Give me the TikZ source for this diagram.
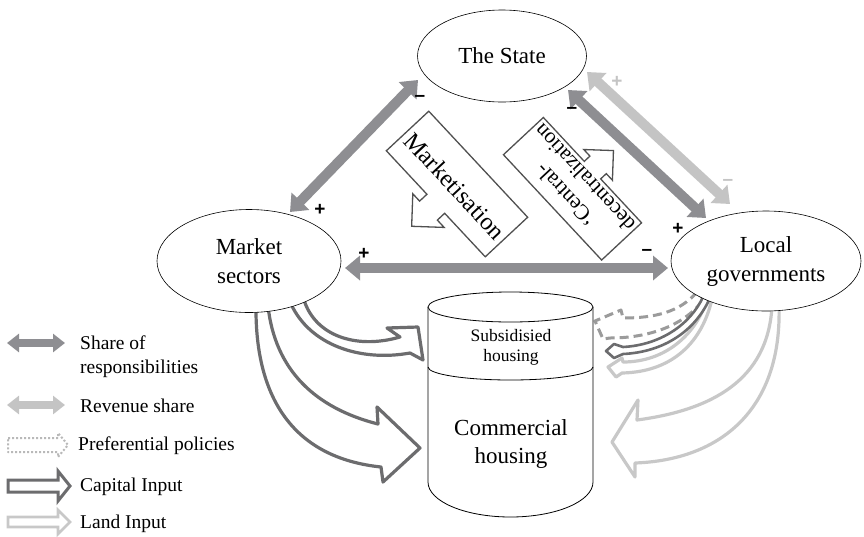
\documentclass[tikz,border=0pt]{standalone}
\usepackage{fontspec}
\setmainfont{Liberation Serif}
\newfontfamily\pmfont{Liberation Sans}
\usetikzlibrary{arrows.meta,backgrounds,shapes.geometric}
\definecolor{shareC}{RGB}{142,142,146}
\definecolor{revC}{RGB}{196,196,196}
\definecolor{capC}{RGB}{108,108,110}
\definecolor{landC}{RGB}{200,200,200}
\definecolor{prefC}{RGB}{155,155,155}
\definecolor{legprefC}{RGB}{185,185,185}
\definecolor{calloutC}{RGB}{80,80,80}
\begin{document}
\begin{tikzpicture}[x=1pt,y=-1pt,
  ell/.style={ellipse, draw=black, line width=0.6pt, fill=white, inner sep=0pt, align=center,
              font=\fontsize{23}{29}\selectfont},
  share/.style={draw=shareC, line width=10pt, {Triangle[width=24pt,length=15pt]}-{Triangle[width=24pt,length=15pt]}},
  rev/.style={share, draw=revC},
  legshare/.style={draw=shareC, line width=8pt, {Triangle[width=18pt,length=12pt]}-{Triangle[width=18pt,length=12pt]}},
  legrev/.style={legshare, draw=revC},
  pm/.style={font=\pmfont\bfseries\fontsize{19}{19}\selectfont, inner sep=0pt},
  callout/.style={draw=calloutC, line width=1.3pt, fill=white, line join=miter},
  capbox/.style={draw=capC, line width=3.2pt, fill=white, line join=round},
  landbox/.style={draw=landC, line width=3.2pt, fill=white, line join=round},
  prefbox/.style={draw=prefC, line width=3pt, fill=white, dash pattern=on 9pt off 5pt, line join=round},
  cyl/.style={draw=black, line width=0.8pt},
  leg/.style={font=\fontsize{19.5}{24}\selectfont, anchor=west, align=left, inner sep=0pt},
  calltext/.style={inner sep=0pt, align=center}
]
\useasboundingbox (0,0) rectangle (864,536);

% main actors
\node[ell, minimum width=169pt, minimum height=92pt] (state) at (502,56) {The State};
\node[ell, minimum width=184pt, minimum height=103pt] (market) at (249,261) {Market\\sectors};
\node[ell, minimum width=190pt, minimum height=100pt] (local) at (766,261) {Local\\governments};

% housing cylinder
\fill[white] (428,307) -- (428,482) arc[start angle=180,end angle=360,x radius=82.5pt,y radius=35pt] -- (593,307) -- cycle;
\draw[cyl] (428,307) -- (428,482) arc[start angle=180,end angle=360,x radius=82.5pt,y radius=35pt] -- (593,307);
\draw[cyl, fill=white] (510.5,307) ellipse[x radius=82.5pt, y radius=15pt];
\draw[cyl] (428,367) arc[start angle=180,end angle=360,x radius=82.5pt,y radius=13pt];
\node[calltext, font=\fontsize{17.5}{20}\selectfont] (sub) at (511,347) {Subsidisied\\housing};
\node[calltext, font=\fontsize{23}{28}\selectfont] (com) at (511,444) {Commercial\\housing};

% block arrows (behind the actors)
\begin{scope}[on background layer]
  % capital input from market sectors
  \draw[capbox] (268,306) .. controls (275,370) and (315,408) .. (378,424) -- (377,407) -- (420,448)
     -- (383,482) -- (381,467) .. controls (295,458) and (255,400) .. (256,306) -- cycle;
  \draw[capbox] (304,300) .. controls (315,335) and (355,350) .. (400,337) -- (387,328) -- (418,327)
     -- (423,360) -- (410,353) .. controls (360,362) and (310,345) .. (291,304) -- cycle;
  % land input from local governments
  \draw[landbox] (779,306) .. controls (782,410) and (720,460) .. (635,463) -- (635,477) -- (612,442)
     -- (638,400) -- (637,420) .. controls (712,410) and (768,380) .. (772,306) -- cycle;
  % small arrows to subsidised housing
  \draw[prefbox] (697,292) .. controls (680,312) and (655,318) .. (623,318) -- (621,310) -- (595,321)
     -- (603,339) -- (610,338) .. controls (650,338) and (685,325) .. (704,299) -- cycle;
  \draw[landbox] (706,302) .. controls (695,335) and (665,362) .. (623,362) -- (622,358) -- (608,367)
     -- (616,377) -- (622,373) .. controls (670,372) and (700,345) .. (711,303) -- cycle;
  \draw[capbox, line width=2.6pt] (703,297) .. controls (690,325) and (660,345) .. (623,347) -- (614,344)
     -- (606,351) -- (614,358) -- (623,354) .. controls (665,352) and (695,330) .. (709,300) -- cycle;
\end{scope}

% double arrows (share of responsibilities / revenue share)
\coordinate (sm1) at (418,80);  \coordinate (sm2) at (290,212);
\coordinate (ml1) at (345,268); \coordinate (ml2) at (668,268);
\coordinate (sl1) at (568,90);  \coordinate (sl2) at (706,218);
\coordinate (rl1) at (587,72);  \coordinate (rl2) at (730,204);
\draw[share] (sm1) -- (sm2);
\draw[share] (ml1) -- (ml2);
\draw[share] (sl1) -- (sl2);
\draw[rev] (rl1) -- (rl2);

% signs
\node[pm] (p1) at (420,98) {–};
\node[pm] (p2) at (320,210) {+};
\node[pm] (p3) at (364,254) {+};
\node[pm] (p4) at (647,252) {–};
\node[pm] (p5) at (572,110) {–};
\node[pm] (p6) at (678,229) {+};
\node[pm, text=revC] (p7) at (617,82) {+};
\node[pm, text=revC] (p8) at (728,182) {–};

% Marketisation callout
\begin{scope}[shift={(457,184)}, rotate=-47]
  \draw[callout] (-72.5pt,29pt) -- (72.5pt,29pt) -- (72.5pt,-29pt) -- (13pt,-29pt) -- (13pt,-39pt)
     -- (23pt,-39pt) -- (0pt,-62pt) -- (-23pt,-39pt) -- (-13pt,-39pt) -- (-13pt,-29pt)
     -- (-72.5pt,-29pt) -- cycle;
  \node[calltext, rotate=-47, font=\fontsize{24.5}{28}\selectfont] (mk) at (0pt,-3pt) {Marketisation};
\end{scope}

% Central-decentralization callout
\begin{scope}[shift={(572.5,188.75)}, rotate=133]
  \draw[callout] (-72pt,27.3pt) -- (72pt,27.3pt) -- (72pt,-27.3pt) -- (12pt,-27.3pt) -- (12pt,-35pt)
     -- (21pt,-35pt) -- (0pt,-56pt) -- (-21pt,-35pt) -- (-12pt,-35pt) -- (-12pt,-27.3pt)
     -- (-72pt,-27.3pt) -- cycle;
  \node[calltext, rotate=133, font=\fontsize{21.5}{26}\selectfont] (cd) at (0pt,-3pt) {‘Central-\\decentralization};
\end{scope}

% legend
\coordinate (lg1a) at (7,343);  \coordinate (lg1b) at (65,343);
\coordinate (lg2a) at (7,405);  \coordinate (lg2b) at (65,405);
\draw[legshare] (lg1a) -- (lg1b);
\draw[legrev] (lg2a) -- (lg2b);
\draw[draw=legprefC, line width=2pt, dotted, line join=round]
   (8,438) -- (58,438) -- (58,433) -- (68,445) -- (58,457) -- (58,452) -- (8,452) -- cycle;
\draw[capbox, line width=3pt, line join=miter]
   (8,480) -- (58,480) -- (58,471) -- (70,486) -- (58,501) -- (58,492) -- (8,492) -- cycle;
\draw[landbox, line width=2.6pt, line join=miter]
   (8,517) -- (58,517) -- (58,510) -- (70,522) -- (58,534) -- (58,527) -- (8,527) -- cycle;
\node[leg] (t1) at (80,357) {Share of\\responsibilities};
\node[leg] (t2) at (80,406) {Revenue share};
\node[leg] (t3) at (78,446) {Preferential policies};
\node[leg] (t4) at (80,487) {Capital Input};
\node[leg] (t5) at (80,524) {Land Input};
\end{tikzpicture}
\end{document}
